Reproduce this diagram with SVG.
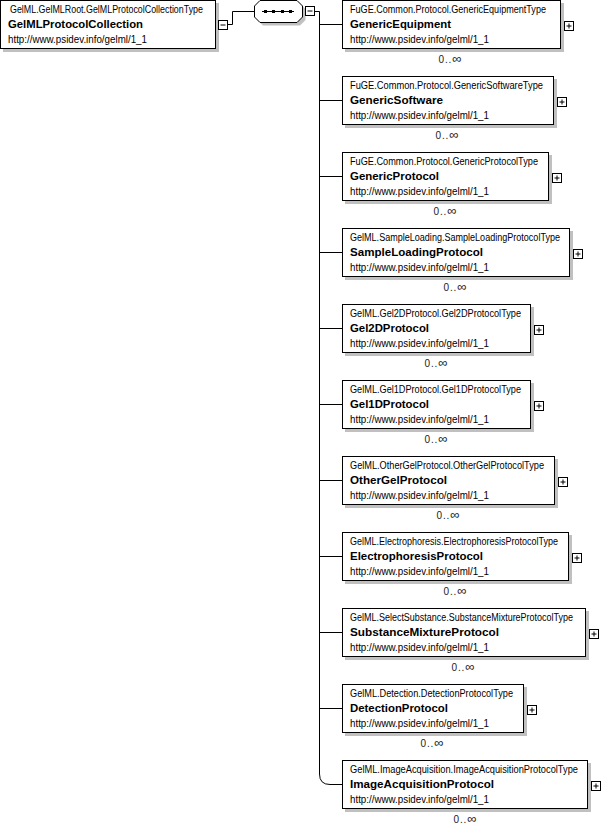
<svg xmlns="http://www.w3.org/2000/svg" xmlns:xlink="http://www.w3.org/1999/xlink" width="602" height="828" viewBox="0 0 602 828">
  <style>
    .box { fill: #fff; stroke: #000; stroke-width: 1; }
    .shadow { fill: #c0c0c0; stroke: none; }
    .conn { fill: none; stroke: #000; stroke-width: 1; }
    text { font-family: "Liberation Sans", Arial, sans-serif; fill: #000; }
    .type { font-size: 10px; }
    .name { font-size: 11.4px; font-weight: bold; }
    .ns { font-size: 10px; }
    .occ { font-size: 10px; text-anchor: middle; fill: #222; }
    .inf { font-size: 13px; }
  </style>
  <defs>
    <!-- expand / collapse toggles -->
    <g id="plus">
      <rect x="0.5" y="0.5" width="9" height="9" class="box"/>
      <path d="M2.5 5H7.5M5 2.5V7.5" class="conn"/>
    </g>
    <g id="minus">
      <rect x="0.5" y="0.5" width="9" height="9" class="box"/>
      <path d="M2.5 5H7.5" class="conn"/>
    </g>
  </defs>

  <rect width="602" height="828" fill="#fff"/>

  <!-- connectors -->
  <g id="connectors">
    <path class="conn" d="M228 24.5H232.5V11.5H254.5"/>
    <path class="conn" d="M315 11.5H319.5"/>
    <path class="conn" d="M319.5 11.5V774Q319.5 784.5 330 784.5H342"/>
    <path class="conn" d="M319.5 24.5H342M319.5 100.5H342M319.5 176.5H342M319.5 252.5H342M319.5 328.5H342M319.5 404.5H342M319.5 480.5H342M319.5 556.5H342M319.5 632.5H342M319.5 708.5H342"/>
  </g>

  <!-- root element -->
  <g id="GelMLProtocolCollection">
    <rect class="shadow" x="3" y="3" width="216" height="49"/>
    <rect class="box" x="0.5" y="0.5" width="215" height="48"/>
    <text class="type" x="10" y="13" textLength="193" lengthAdjust="spacingAndGlyphs">GelML.GelMLRoot.GelMLProtocolCollectionType</text>
    <text class="name" x="8" y="28" textLength="135" lengthAdjust="spacingAndGlyphs">GelMLProtocolCollection</text>
    <text class="ns" x="8" y="43" textLength="139" lengthAdjust="spacingAndGlyphs">http://www.psidev.info/gelml/1_1</text>
    <use xlink:href="#minus" x="218" y="20"/>
  </g>

  <!-- sequence compositor -->
  <g id="sequence">
    <polygon class="shadow" points="263,3.5 300,3.5 305.5,9 305.5,20 300,25.5 263,25.5 257.5,20 257.5,9"/>
    <polygon class="box" points="260,0.5 297,0.5 302.5,6 302.5,17 297,22.5 260,22.5 254.5,17 254.5,6"/>
    <path class="conn" d="M262 11.5H294"/>
    <rect x="264" y="10" width="3" height="3" fill="#000"/>
    <rect x="272" y="10" width="3" height="3" fill="#000"/>
    <rect x="281" y="10" width="3" height="3" fill="#000"/>
    <rect x="289" y="10" width="3" height="3" fill="#000"/>
    <use xlink:href="#minus" x="305" y="6"/>
  </g>

  <!-- child elements -->
  <g id="GenericEquipment">
    <rect class="shadow" x="345" y="3" width="219" height="49"/>
    <rect class="box" x="342.5" y="0.5" width="218" height="48"/>
    <text class="type" x="350" y="13" textLength="196" lengthAdjust="spacingAndGlyphs">FuGE.Common.Protocol.GenericEquipmentType</text>
    <text class="name" x="350" y="28" textLength="101" lengthAdjust="spacingAndGlyphs">GenericEquipment</text>
    <text class="ns" x="350" y="43" textLength="139" lengthAdjust="spacingAndGlyphs">http://www.psidev.info/gelml/1_1</text>
    <use xlink:href="#plus" x="564" y="21"/>
    <text class="occ" x="450" y="63" textLength="23" lengthAdjust="spacing">0..<tspan class="inf">∞</tspan></text>
  </g>

  <g id="GenericSoftware">
    <rect class="shadow" x="345" y="79" width="212" height="49"/>
    <rect class="box" x="342.5" y="76.5" width="211" height="48"/>
    <text class="type" x="350" y="89" textLength="193" lengthAdjust="spacingAndGlyphs">FuGE.Common.Protocol.GenericSoftwareType</text>
    <text class="name" x="350" y="104" textLength="93" lengthAdjust="spacingAndGlyphs">GenericSoftware</text>
    <text class="ns" x="350" y="119" textLength="139" lengthAdjust="spacingAndGlyphs">http://www.psidev.info/gelml/1_1</text>
    <use xlink:href="#plus" x="557" y="97"/>
    <text class="occ" x="447" y="139" textLength="23" lengthAdjust="spacing">0..<tspan class="inf">∞</tspan></text>
  </g>

  <g id="GenericProtocol">
    <rect class="shadow" x="345" y="155" width="207" height="49"/>
    <rect class="box" x="342.5" y="152.5" width="206" height="48"/>
    <text class="type" x="350" y="165" textLength="188" lengthAdjust="spacingAndGlyphs">FuGE.Common.Protocol.GenericProtocolType</text>
    <text class="name" x="350" y="180" textLength="89" lengthAdjust="spacingAndGlyphs">GenericProtocol</text>
    <text class="ns" x="350" y="195" textLength="139" lengthAdjust="spacingAndGlyphs">http://www.psidev.info/gelml/1_1</text>
    <use xlink:href="#plus" x="552" y="173"/>
    <text class="occ" x="445" y="215" textLength="23" lengthAdjust="spacing">0..<tspan class="inf">∞</tspan></text>
  </g>

  <g id="SampleLoadingProtocol">
    <rect class="shadow" x="345" y="231" width="228" height="49"/>
    <rect class="box" x="342.5" y="228.5" width="227" height="48"/>
    <text class="type" x="350" y="241" textLength="210" lengthAdjust="spacingAndGlyphs">GelML.SampleLoading.SampleLoadingProtocolType</text>
    <text class="name" x="350" y="256" textLength="133" lengthAdjust="spacingAndGlyphs">SampleLoadingProtocol</text>
    <text class="ns" x="350" y="271" textLength="139" lengthAdjust="spacingAndGlyphs">http://www.psidev.info/gelml/1_1</text>
    <use xlink:href="#plus" x="573" y="249"/>
    <text class="occ" x="455" y="291" textLength="23" lengthAdjust="spacing">0..<tspan class="inf">∞</tspan></text>
  </g>

  <g id="Gel2DProtocol">
    <rect class="shadow" x="345" y="307" width="189" height="49"/>
    <rect class="box" x="342.5" y="304.5" width="188" height="48"/>
    <text class="type" x="350" y="317" textLength="171" lengthAdjust="spacingAndGlyphs">GelML.Gel2DProtocol.Gel2DProtocolType</text>
    <text class="name" x="350" y="332" textLength="79" lengthAdjust="spacingAndGlyphs">Gel2DProtocol</text>
    <text class="ns" x="350" y="347" textLength="139" lengthAdjust="spacingAndGlyphs">http://www.psidev.info/gelml/1_1</text>
    <use xlink:href="#plus" x="534" y="325"/>
    <text class="occ" x="436" y="367" textLength="23" lengthAdjust="spacing">0..<tspan class="inf">∞</tspan></text>
  </g>

  <g id="Gel1DProtocol">
    <rect class="shadow" x="345" y="383" width="189" height="49"/>
    <rect class="box" x="342.5" y="380.5" width="188" height="48"/>
    <text class="type" x="350" y="393" textLength="171" lengthAdjust="spacingAndGlyphs">GelML.Gel1DProtocol.Gel1DProtocolType</text>
    <text class="name" x="350" y="408" textLength="79" lengthAdjust="spacingAndGlyphs">Gel1DProtocol</text>
    <text class="ns" x="350" y="423" textLength="139" lengthAdjust="spacingAndGlyphs">http://www.psidev.info/gelml/1_1</text>
    <use xlink:href="#plus" x="534" y="401"/>
    <text class="occ" x="436" y="443" textLength="23" lengthAdjust="spacing">0..<tspan class="inf">∞</tspan></text>
  </g>

  <g id="OtherGelProtocol">
    <rect class="shadow" x="345" y="459" width="213" height="49"/>
    <rect class="box" x="342.5" y="456.5" width="212" height="48"/>
    <text class="type" x="350" y="469" textLength="194" lengthAdjust="spacingAndGlyphs">GelML.OtherGelProtocol.OtherGelProtocolType</text>
    <text class="name" x="350" y="484" textLength="97" lengthAdjust="spacingAndGlyphs">OtherGelProtocol</text>
    <text class="ns" x="350" y="499" textLength="139" lengthAdjust="spacingAndGlyphs">http://www.psidev.info/gelml/1_1</text>
    <use xlink:href="#plus" x="558" y="477"/>
    <text class="occ" x="448" y="519" textLength="23" lengthAdjust="spacing">0..<tspan class="inf">∞</tspan></text>
  </g>

  <g id="ElectrophoresisProtocol">
    <rect class="shadow" x="345" y="535" width="227" height="49"/>
    <rect class="box" x="342.5" y="532.5" width="226" height="48"/>
    <text class="type" x="350" y="545" textLength="208" lengthAdjust="spacingAndGlyphs">GelML.Electrophoresis.ElectrophoresisProtocolType</text>
    <text class="name" x="350" y="560" textLength="133" lengthAdjust="spacingAndGlyphs">ElectrophoresisProtocol</text>
    <text class="ns" x="350" y="575" textLength="139" lengthAdjust="spacingAndGlyphs">http://www.psidev.info/gelml/1_1</text>
    <use xlink:href="#plus" x="572" y="553"/>
    <text class="occ" x="455" y="595" textLength="23" lengthAdjust="spacing">0..<tspan class="inf">∞</tspan></text>
  </g>

  <g id="SubstanceMixtureProtocol">
    <rect class="shadow" x="345" y="611" width="244" height="49"/>
    <rect class="box" x="342.5" y="608.5" width="243" height="48"/>
    <text class="type" x="350" y="621" textLength="223" lengthAdjust="spacingAndGlyphs">GelML.SelectSubstance.SubstanceMixtureProtocolType</text>
    <text class="name" x="350" y="636" textLength="149" lengthAdjust="spacingAndGlyphs">SubstanceMixtureProtocol</text>
    <text class="ns" x="350" y="651" textLength="139" lengthAdjust="spacingAndGlyphs">http://www.psidev.info/gelml/1_1</text>
    <use xlink:href="#plus" x="589" y="629"/>
    <text class="occ" x="463" y="671" textLength="23" lengthAdjust="spacing">0..<tspan class="inf">∞</tspan></text>
  </g>

  <g id="DetectionProtocol">
    <rect class="shadow" x="345" y="687" width="182" height="49"/>
    <rect class="box" x="342.5" y="684.5" width="181" height="48"/>
    <text class="type" x="350" y="697" textLength="163" lengthAdjust="spacingAndGlyphs">GelML.Detection.DetectionProtocolType</text>
    <text class="name" x="350" y="712" textLength="98" lengthAdjust="spacingAndGlyphs">DetectionProtocol</text>
    <text class="ns" x="350" y="727" textLength="139" lengthAdjust="spacingAndGlyphs">http://www.psidev.info/gelml/1_1</text>
    <use xlink:href="#plus" x="527" y="705"/>
    <text class="occ" x="432" y="747" textLength="23" lengthAdjust="spacing">0..<tspan class="inf">∞</tspan></text>
  </g>

  <g id="ImageAcquisitionProtocol">
    <rect class="shadow" x="345" y="763" width="246" height="49"/>
    <rect class="box" x="342.5" y="760.5" width="245" height="48"/>
    <text class="type" x="350" y="773" textLength="228" lengthAdjust="spacingAndGlyphs">GelML.ImageAcquisition.ImageAcquisitionProtocolType</text>
    <text class="name" x="350" y="788" textLength="144" lengthAdjust="spacingAndGlyphs">ImageAcquisitionProtocol</text>
    <text class="ns" x="350" y="803" textLength="139" lengthAdjust="spacingAndGlyphs">http://www.psidev.info/gelml/1_1</text>
    <use xlink:href="#plus" x="591" y="781"/>
    <text class="occ" x="465" y="823" textLength="23" lengthAdjust="spacing">0..<tspan class="inf">∞</tspan></text>
  </g>
</svg>
